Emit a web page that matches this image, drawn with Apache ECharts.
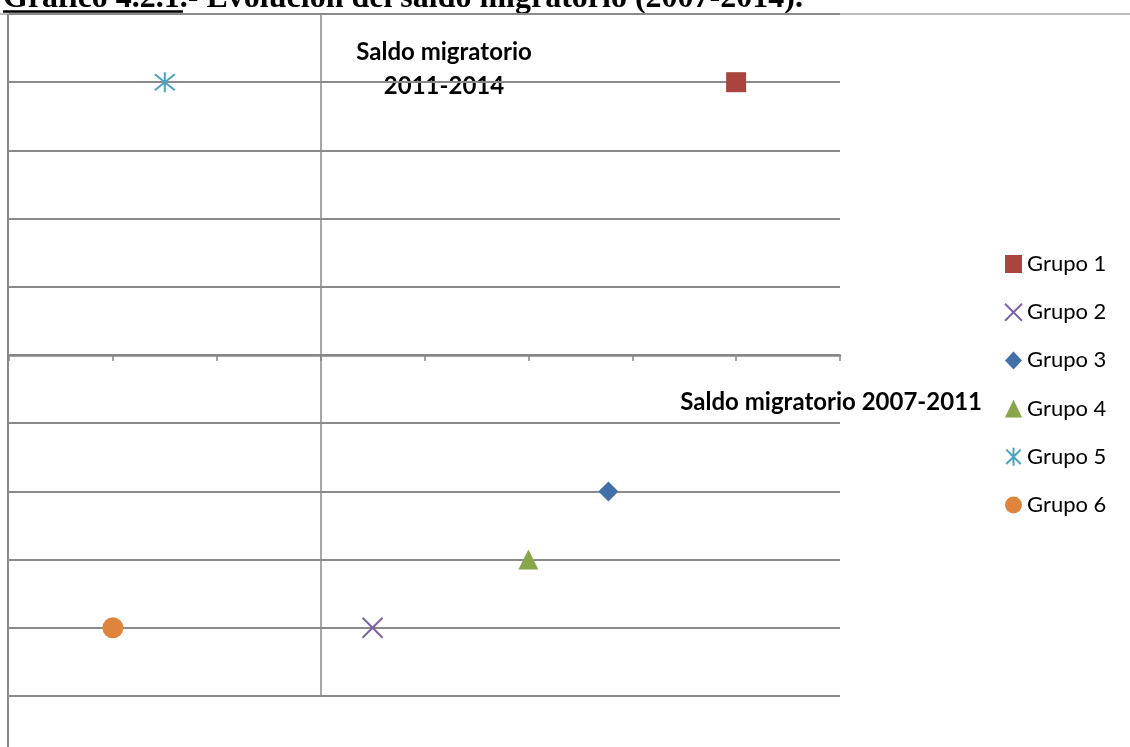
<!DOCTYPE html>
<html>
<head>
<meta charset="utf-8">
<script src="https://cdn.jsdelivr.net/npm/echarts@6/dist/echarts.min.js"></script>
<style>
  html, body { margin: 0; padding: 0; background: #fff; }
  #chart { width: 1130px; height: 747px; }
</style>
</head>
<body>
<div id="chart"></div>
<script>
// datos
const grupos = ['Grupo 1', 'Grupo 2', 'Grupo 3', 'Grupo 4', 'Grupo 5', 'Grupo 6']
const saldo0711 = [4, 0.5, 2.77, 2, -1.5, -2]
const saldo1114 = [4, -4, -2, -3, 4, -4]
const colores = ['#A9443F', '#7C63A0', '#4470AA', '#8AA64A', '#4AA3BF', '#DE843C']

const crossPath = 'path://M0,0 L20,20 M20,0 L0,20'
const starPath = 'path://M10,0 L10,20 M2,2 L18,18 M2,18 L18,2'
const simbolos = ['rect', crossPath, 'diamond', 'triangle', starPath, 'circle']
const tamanos = [20, 20, 20, 20, 20, 21]

const chart = echarts.init(document.getElementById('chart'))

const series = grupos.map((name, i) => {
  const lineal = i === 1 || i === 4
  return {
    name,
    type: 'scatter',
    symbol: simbolos[i],
    symbolSize: tamanos[i],
    data: [[saldo0711[i], saldo1114[i]]],
    itemStyle: lineal
      ? { color: 'transparent', borderColor: colores[i], borderWidth: 2, opacity: 1 }
      : { color: colores[i], opacity: 1 },
    emphasis: { disabled: true }
  }
})

chart.setOption({
  backgroundColor: '#fff',
  animation: false,
  grid: { left: 9, top: 14, width: 831, height: 682 },
  xAxis: {
    type: 'value',
    min: -3,
    max: 5,
    interval: 1,
    axisLine: { onZero: true, lineStyle: { color: '#868686', width: 2.5 } },
    axisTick: { show: true, length: 6, lineStyle: { color: '#868686', width: 1.5 } },
    axisLabel: { show: false },
    splitLine: { show: false }
  },
  yAxis: {
    type: 'value',
    min: -5,
    max: 5,
    interval: 1,
    axisLine: { show: true, onZero: true, lineStyle: { color: '#8a8a8a', width: 1.5 } },
    axisTick: { show: true, length: 6, lineStyle: { color: '#8a8a8a', width: 1.5 } },
    axisLabel: { show: false },
    splitLine: { show: true, lineStyle: { color: '#8a8a8a', width: 2 } }
  },
  legend: {
    orient: 'vertical',
    left: 1004,
    top: 253,
    padding: 0,
    itemWidth: 17,
    itemHeight: 18,
    itemGap: 26.2,
    data: grupos,
    textStyle: { fontFamily: 'Lato', fontSize: 22, lineHeight: 18, color: '#000' }
  },
  graphic: [
    {
      type: 'line', z: -1,
      shape: { x1: 0, y1: 14, x2: 1130, y2: 14 },
      style: { stroke: '#a6a6a6', lineWidth: 1.5 }
    },
    {
      type: 'line',
      shape: { x1: 8, y1: 14, x2: 8, y2: 747 },
      style: { stroke: '#8a8a8a', lineWidth: 2 }
    },
    {
      type: 'text', left: 3, top: -17,
      style: {
        text: 'Gráfico 4.2.1.- Evolución del saldo migratorio (2007-2014).',
        font: 'bold 32px "Liberation Serif"',
        fill: '#000'
      }
    },
    {
      type: 'line',
      shape: { x1: 3, y1: 11.5, x2: 183, y2: 11.5 },
      style: { stroke: '#000', lineWidth: 2.5 }
    },
    {
      type: 'text', x: 444, y: 69,
      style: {
        text: 'Saldo migratorio\n2011-2014',
        font: 'bold 24px Lato',
        lineHeight: 34,
        align: 'center',
        verticalAlign: 'middle',
        fill: '#000'
      }
    },
    {
      type: 'text', x: 982, y: 402,
      style: {
        text: 'Saldo migratorio 2007-2011',
        font: 'bold 24px Lato',
        align: 'right',
        verticalAlign: 'middle',
        fill: '#000'
      }
    }
  ],
  series
})
</script>
</body>
</html>
